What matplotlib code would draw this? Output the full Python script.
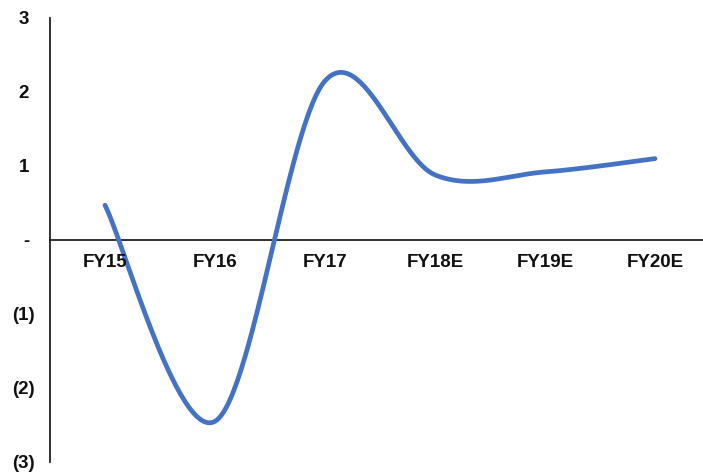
import numpy as np
import matplotlib
matplotlib.use("Agg")
import matplotlib.pyplot as plt
from matplotlib.transforms import ScaledTranslation, blended_transform_factory

# Fiscal-year series
categories = ["FY15", "FY16", "FY17", "FY18E", "FY19E", "FY20E"]
values = [0.47, -2.45, 2.15, 0.88, 0.92, 1.10]
ytick_values = [3, 2, 1, 0, -1, -2, -3]
ytick_labels = ["3", "2", "1", "-", "(1)", "(2)", "(3)"]

LINE_COLOR = "#4472C4"
FONT = ["Liberation Sans", "DejaVu Sans"]


def smooth_curve(xs, ys, n=60):
    """Cubic Bezier smoothing through every point (Catmull-Rom style)."""
    pts = np.column_stack([xs, ys]).astype(float)
    m = len(pts)
    out = []
    for i in range(m - 1):
        p_prev = pts[i - 1] if i > 0 else pts[i]
        p0, p1 = pts[i], pts[i + 1]
        p_next = pts[i + 2] if i + 2 < m else pts[i + 1]
        c1 = p0 + (p1 - p_prev) / 6.0
        c2 = p1 - (p_next - p0) / 6.0
        t = np.linspace(0, 1, n)[:, None]
        seg = ((1 - t) ** 3) * p0 + 3 * ((1 - t) ** 2) * t * c1 \
            + 3 * (1 - t) * t ** 2 * c2 + t ** 3 * p1
        out.append(seg if i == 0 else seg[1:])
    curve = np.vstack(out)
    return curve[:, 0], curve[:, 1]


W, H = 703, 472
fig = plt.figure(figsize=(W / 100, H / 100), dpi=100)
left_px, right_px, top_px, bottom_px = 50, 710, 18, 462
ax = fig.add_axes([left_px / W, (H - bottom_px) / H,
                   (right_px - left_px) / W, (bottom_px - top_px) / H])

x = np.arange(len(categories))
sx, sy = smooth_curve(x, values)
ax.plot(sx, sy, color=LINE_COLOR, lw=3.4, solid_capstyle="round", zorder=3)

ax.set_xlim(-0.5, len(categories) - 0.5)
ax.set_ylim(-3, 3)

# Spines: vertical axis on the left, horizontal axis through zero
for side in ("top", "right", "bottom"):
    ax.spines[side].set_visible(False)
ax.spines["left"].set_color("#222222")
ax.spines["left"].set_linewidth(1.3)
ax.axhline(0, color="#222222", lw=1.3, zorder=2, clip_on=False)

ax.set_xticks([])
ax.set_yticks(ytick_values)
ax.set_yticklabels(ytick_labels, fontfamily=FONT, fontweight="bold",
                   fontsize=13.5, color="#111111")
ax.tick_params(axis="y", length=0, pad=10.8)

# Positive and zero labels leave room for a closing parenthesis
for val, lab in zip(ytick_values, ax.get_yticklabels()):
    if val >= 0:
        lab.set_transform(lab.get_transform()
                          + ScaledTranslation(-6 / 100, 0, fig.dpi_scale_trans))

# Category labels hang just below the zero line
trans = blended_transform_factory(ax.transData, ax.transData) \
    + ScaledTranslation(0, -14 / 100, fig.dpi_scale_trans)
for xi, cat in zip(x, categories):
    ax.text(xi, 0, cat, transform=trans, ha="center", va="top",
            fontfamily=FONT, fontweight="bold", fontsize=13.5, color="#111111")

fig.savefig("out.png", dpi=100)
